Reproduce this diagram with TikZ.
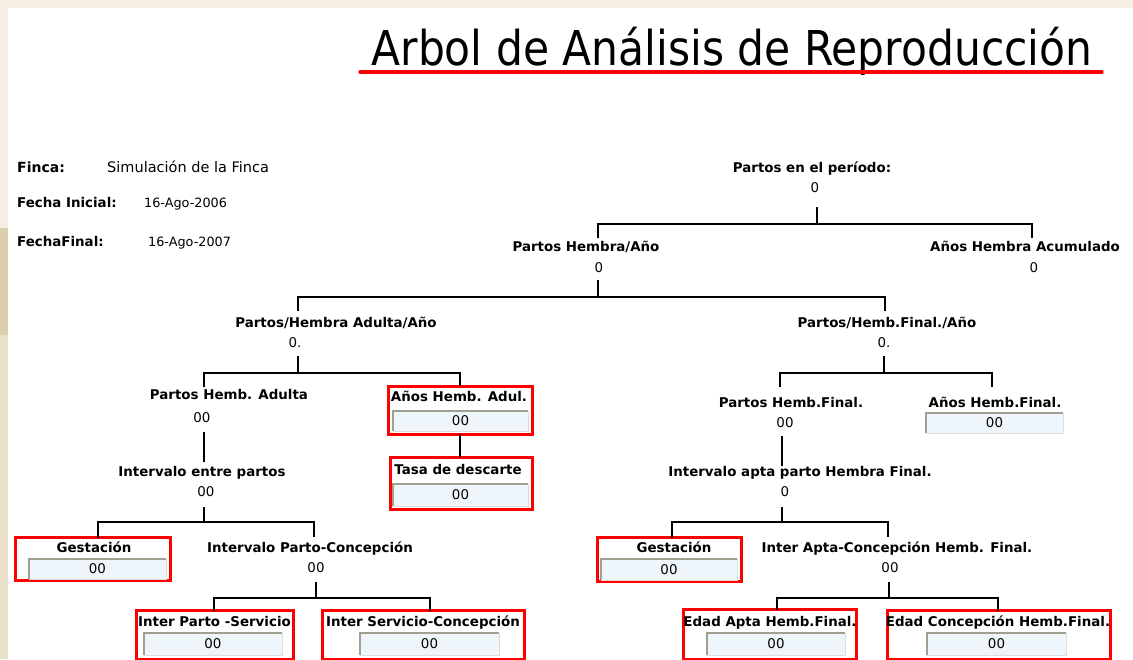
\documentclass[tikz,border=0pt]{standalone}
\usepackage{fontspec}
\setmainfont{DejaVu Sans}
\newfontfamily\titlefont{DejaVu Sans}
\usepackage{graphicx}
\definecolor{bgtop}{HTML}{F5EEE3}
\definecolor{bgdark}{HTML}{DCD0AC}
\definecolor{bgmid}{HTML}{E9E0CA}
\definecolor{inblue}{HTML}{EEF6FC}
\definecolor{edgedark}{HTML}{A09F90}
\definecolor{edgelight}{HTML}{DEDED8}
\tikzset{
 lbl/.style={font=\fontsize{13.4}{15}\selectfont\bfseries, inner sep=0pt, anchor=base},
 val/.style={font=\fontsize{13.4}{15}\selectfont, inner sep=0pt, anchor=base},
 hdrb/.style={font=\fontsize{13.4}{15}\selectfont\bfseries, inner sep=0pt, anchor=base west},
 hdrv/.style={font=\fontsize{12.8}{14}\selectfont, inner sep=0pt, anchor=base west},
 treeline/.style={line width=2pt, black},
 redframe/.style={draw=red, line width=3pt, inner sep=0pt},
 inbox/.style={fill=inblue, inner sep=0pt, font=\fontsize{13.4}{15}\selectfont},
 darkedge/.style={draw=edgedark, line width=2pt},
 lightedge/.style={draw=edgelight, line width=1pt},
}
\newcommand\inbx[5]{\node[inbox, minimum width=#3pt, minimum height=#4pt] (#1) at (#2) {#5};
 \draw[lightedge] (#1.south west) -| (#1.north east);
 \draw[darkedge] (#1.south west) |- (#1.north east);}
\newcommand\rframe[4]{\node[redframe, minimum width=#3pt, minimum height=#4pt] (#1) at (#2) {};}
\begin{document}
\begin{tikzpicture}[x=1pt,y=-1pt]
\useasboundingbox (0,0) rectangle (1133,659);
% background
\fill[white] (0,0) rectangle (1133,659);
\fill[bgtop] (0,0) rectangle (1133,8);
\fill[bgtop] (0,0) rectangle (8,228);
\fill[bgdark] (0,228) rectangle (8,335);
\fill[bgmid] (0,335) rectangle (8,659);
% title
\node[inner sep=0pt, anchor=base] (title) at (732,65) {\scalebox{0.884}[1]{\titlefont\fontsize{48}{50}\selectfont Arbol de Análisis de Reproducción}};
\coordinate (ul1) at (360,72);
\coordinate (ul2) at (1102,72);
\draw[red, line width=3.2pt, line cap=round] (ul1) -- (ul2);
% header
\node[hdrb, font=\fontsize{14}{16}\selectfont\bfseries] (hf) at (17,172) {Finca:};
\node[hdrv, font=\fontsize{14.5}{16}\selectfont] (hfv) at (107,172) {Simulación de la Finca};
\node[hdrb] (hi) at (17,207) {Fecha Inicial:};
\node[hdrv] (hiv) at (144,207) {16-Ago-2006};
\node[hdrb] (hfi) at (17,246) {FechaFinal:};
\node[hdrv] (hfiv) at (148,246) {16-Ago-2007};
% level 0
\node[lbl] (L0) at (812,172) {Partos en el período:};
\node[val] (V0) at (815,192) {0};
\node[lbl] (L1) at (586,251) {Partos Hembra/Año};
\node[val] (V1) at (599,272) {0};
\node[lbl] (L2) at (1025,251) {Años Hembra Acumulado};
\node[val] (V2) at (1034,272) {0};
\node[lbl] (L11) at (336,327) {Partos/Hembra Adulta/Año};
\node[val] (V11) at (295,347) {0.};
\node[lbl] (L12) at (887,327) {Partos/Hemb.Final./Año};
\node[val] (V12) at (884,347) {0.};
% left subtree
\node[lbl] (L111) at (229,399) {Partos Hemb. Adulta};
\node[val] (V111) at (202,422) {00};
\node[lbl] (L1111) at (202,476) {Intervalo entre partos};
\node[val] (V1111) at (206,496) {00};
\node[lbl] (LIPC) at (310,552) {Intervalo Parto-Concepción};
\node[val] (VIPC) at (316,572) {00};
% frames left
\rframe{fAHA}{460,410}{144}{48}
\node[lbl] (LAHA) at (459,401) {Años Hemb. Adul.};
\inbx{bAHA}{460.5,421}{135}{20}{00}
\rframe{fTasa}{461,483}{142}{52}
\node[lbl] (LTasa) at (458,474) {Tasa de descarte};
\inbx{bTasa}{460.5,495}{135}{22}{00}
\rframe{fGL}{92.5,558.5}{155}{43}
\node[lbl] (LGL) at (94,552) {Gestación};
\inbx{bGL}{97.5,569}{137}{20}{00}
\rframe{fIPS}{214.5,634.5}{157}{49}
\node[lbl] (LIPS) at (214.5,626) {Inter Parto -Servicio};
\inbx{bIPS}{213,644}{138}{22}{00}
\rframe{fISC}{423,634.5}{202}{49}
\node[lbl] (LISC) at (423,626) {Inter Servicio-Concepción};
\inbx{bISC}{429.5,644}{139}{22}{00}
% right subtree
\node[lbl] (L121) at (791,407) {Partos Hemb.Final.};
\node[val] (V121) at (785,427) {00};
\node[lbl] (L122) at (995,407) {Años Hemb.Final.};
\inbx{bAHF}{994.5,423}{137}{20}{00}
\node[lbl] (L1211) at (800,476) {Intervalo apta parto Hembra Final.};
\node[val] (V1211) at (785,496) {0};
\node[lbl] (LIAC) at (897,552) {Inter Apta-Concepción Hemb. Final.};
\node[val] (VIAC) at (890,572) {00};
\rframe{fGR}{669,559}{144}{44}
\node[lbl] (LGR) at (674,552) {Gestación};
\inbx{bGR}{669,569.5}{136}{21}{00}
\rframe{fEA}{769.5,634}{173}{50}
\node[lbl] (LEA) at (770,626) {Edad Apta Hemb.Final.};
\inbx{bEA}{776,644}{138}{22}{00}
\rframe{fEC}{998.5,634.5}{223}{49}
\node[lbl] (LEC) at (998,626) {Edad Concepción Hemb.Final.};
\inbx{bEC}{996.5,644}{139}{22}{00}
% connectors
\coordinate (t0) at (817,207); \coordinate (j0) at (817,224);
\coordinate (d1) at (598,238); \coordinate (d2) at (1032,238);
\draw[treeline] (t0) -- (j0);
\draw[treeline] (d1) |- (j0) -| (d2);
\coordinate (t1) at (598,280); \coordinate (j1) at (598,297);
\coordinate (d11) at (298,311); \coordinate (d12) at (885,311);
\draw[treeline] (t1) -- (j1);
\draw[treeline] (d11) |- (j1) -| (d12);
\coordinate (t11) at (298,356); \coordinate (j11) at (298,373);
\coordinate (d111) at (204,387); \coordinate (d112) at (460,386);
\draw[treeline] (t11) -- (j11);
\draw[treeline] (d111) |- (j11) -| (d112);
\coordinate (t111) at (204,432); \coordinate (b111) at (204,462);
\draw[treeline] (t111) -- (b111);
\coordinate (t112) at (204,507); \coordinate (j112) at (204,522);
\coordinate (d1121) at (98,538); \coordinate (d1122) at (314,537);
\draw[treeline] (t112) -- (j112);
\draw[treeline] (d1121) |- (j112) -| (d1122);
\coordinate (t1122) at (316,582); \coordinate (j1122) at (316,598);
\coordinate (d11221) at (214,611); \coordinate (d11222) at (430,611);
\draw[treeline] (t1122) -- (j1122);
\draw[treeline] (d11221) |- (j1122) -| (d11222);
\coordinate (aha1) at (460,434); \coordinate (aha2) at (460,457);
\draw[treeline] (aha1) -- (aha2);
\coordinate (t12) at (884,356); \coordinate (j12) at (884,373);
\coordinate (d121) at (780,387); \coordinate (d122) at (992,387);
\draw[treeline] (t12) -- (j12);
\draw[treeline] (d121) |- (j12) -| (d122);
\coordinate (t121) at (782,436); \coordinate (b121) at (782,466);
\draw[treeline] (t121) -- (b121);
\coordinate (t122) at (782,507); \coordinate (j122) at (782,522);
\coordinate (d1221) at (672,538); \coordinate (d1222) at (888,537);
\draw[treeline] (t122) -- (j122);
\draw[treeline] (d1221) |- (j122) -| (d1222);
\coordinate (t1222) at (889,582); \coordinate (j1222) at (889,598);
\coordinate (d12221) at (777,610); \coordinate (d12222) at (998,611);
\draw[treeline] (t1222) -- (j1222);
\draw[treeline] (d12221) |- (j1222) -| (d12222);
\end{tikzpicture}
\end{document}
